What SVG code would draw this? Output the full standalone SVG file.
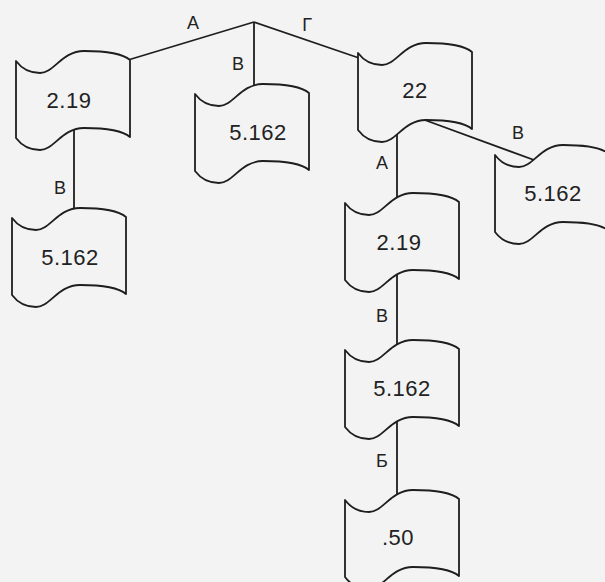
<svg xmlns="http://www.w3.org/2000/svg" xmlns:xlink="http://www.w3.org/1999/xlink" width="605" height="582" viewBox="0 0 605 582">
  <style>
    .bg { fill: #f3f3f3; }
    .doc { fill: #f3f3f3; stroke: #1e1e1e; stroke-width: 1.8; stroke-linejoin: round; }
    .edge { stroke: #1e1e1e; stroke-width: 1.8; fill: none; }
    .num { font-family: "Liberation Sans", Arial, sans-serif; font-size: 22px; letter-spacing: 0.5px; fill: #222; text-anchor: middle; }
    .lbl { font-family: "Liberation Sans", Arial, sans-serif; font-size: 18px; fill: #222; text-anchor: middle; }
  </style>
  <defs>
    <path id="docshape" d="M0,0 C6,8 14,12 24,12 C38,12 46,-10 68,-10 C88,-10 106,-8 114,-1 L114,76 C106,69 88,67 68,67 C46,67 38,89 24,89 C14,89 6,85 0,77 Z"/>
  </defs>
  <rect class="bg" x="0" y="0" width="605" height="582"/>

  <g id="connectors">
    <line class="edge" x1="254" y1="22" x2="128" y2="60"/>
    <line class="edge" x1="254" y1="22" x2="254" y2="92"/>
    <line class="edge" x1="254" y1="22" x2="359" y2="58"/>
    <line class="edge" x1="74" y1="130" x2="74" y2="215"/>
    <line class="edge" x1="397" y1="125" x2="397" y2="210"/>
    <line class="edge" x1="397" y1="275" x2="397" y2="357"/>
    <line class="edge" x1="397" y1="422" x2="397" y2="507"/>
    <line class="edge" x1="422" y1="119" x2="545" y2="164"/>
    <text class="lbl" x="193" y="29">А</text>
    <text class="lbl" x="238" y="70">В</text>
    <text class="lbl" x="307" y="31">Г</text>
    <text class="lbl" x="60" y="194">В</text>
    <text class="lbl" x="382" y="169">А</text>
    <text class="lbl" x="382" y="322">В</text>
    <text class="lbl" x="382" y="467">Б</text>
    <text class="lbl" x="518" y="139">В</text>
  </g>

  <g id="n1">
    <use xlink:href="#docshape" class="doc" transform="translate(16,61)"/>
    <text class="num" x="69" y="108">2.19</text>
  </g>
  <g id="n2">
    <use xlink:href="#docshape" class="doc" transform="translate(195,94)"/>
    <text class="num" x="258" y="140">5.162</text>
  </g>
  <g id="n3">
    <use xlink:href="#docshape" class="doc" transform="translate(358,53)"/>
    <text class="num" x="415" y="98">22</text>
  </g>
  <g id="n4">
    <use xlink:href="#docshape" class="doc" transform="translate(345,203)"/>
    <text class="num" x="399" y="250">2.19</text>
  </g>
  <g id="n5">
    <use xlink:href="#docshape" class="doc" transform="translate(345,350)"/>
    <text class="num" x="402" y="396">5.162</text>
  </g>
  <g id="n6">
    <use xlink:href="#docshape" class="doc" transform="translate(345,500)"/>
    <text class="num" x="398" y="545">.50</text>
  </g>
  <g id="n7">
    <use xlink:href="#docshape" class="doc" transform="translate(495,155)"/>
    <text class="num" x="553" y="201">5.162</text>
  </g>
  <g id="n8">
    <use xlink:href="#docshape" class="doc" transform="translate(12,218)"/>
    <text class="num" x="70" y="265">5.162</text>
  </g>
</svg>
